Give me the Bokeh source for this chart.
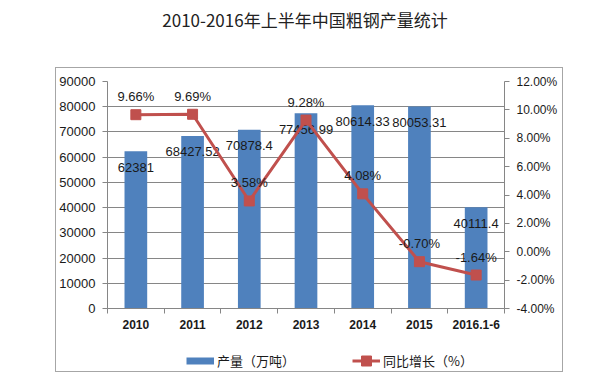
import numpy as np
from bokeh.plotting import figure
from bokeh.layouts import column
from bokeh.models import (Range1d, LinearAxis, FixedTicker, Legend, LegendItem,
                          ColumnDataSource, Div)
from bokeh.embed import file_html
from bokeh.resources import INLINE
from bokeh.core.properties import value

title_text = "2010-2016年上半年中国粗钢产量统计"
categories = ["2010", "2011", "2012", "2013", "2014", "2015", "2016.1-6"]
output_values = [62381, 68427.52, 70878.4, 77456.99, 80614.33, 80053.31, 40111.4]
output_labels = ["62381", "68427.52", "70878.4", "77456.99", "80614.33", "80053.31", "40111.4"]
growth_pct = [9.66, 9.69, 3.58, 9.28, 4.08, -0.70, -1.64]
left_ticks = list(range(0, 90001, 10000))
right_ticks = list(range(-4, 13, 2))
bar_name = "产量（万吨）"
line_name = "同比增长（%）"

BAR = "#4F81BD"
RED = "#C0504D"
AX = "#868686"
TXT = "#1a1a1a"
NUM_FONT = "Liberation Sans"
CJK = "Noto Sans CJK SC"

x = np.arange(len(categories)) + 0.5
src = ColumnDataSource(dict(
    x=x, v=output_values, vl=output_labels,
    g=growth_pct, gl=[f"{g:.2f}%" for g in growth_pct],
))

# ---------------- main chart ----------------
p = figure(width=506, height=272, output_backend="svg", toolbar_location=None,
           x_range=Range1d(0, len(categories)), y_range=Range1d(left_ticks[0], left_ticks[-1]),
           min_border_left=50, min_border_right=58, min_border_top=13, min_border_bottom=32)
p.outline_line_color = None
p.extra_y_ranges = {"pct": Range1d(right_ticks[0], right_ticks[-1])}

bars = p.vbar(x="x", top="v", width=0.4, source=src, fill_color=BAR, line_color=None)
p.text(x="x", y="v", text="vl", source=src, y_offset=16, text_align="center",
       text_baseline="middle", text_font_size="13px", text_font=value(NUM_FONT),
       text_color=TXT)

ln = p.line(x="x", y="g", source=src, y_range_name="pct", line_color=RED, line_width=3)
mk = p.scatter(x="x", y="g", source=src, y_range_name="pct", marker="square", size=10,
               fill_color=RED, line_color=RED)
p.text(x="x", y="g", text="gl", source=src, y_range_name="pct", y_offset=-18,
       text_align="center", text_baseline="middle", text_font_size="13px",
       text_font=value(NUM_FONT), text_color=TXT)

xa = p.xaxis[0]
xa.ticker = FixedTicker(ticks=list(x), minor_ticks=list(range(len(categories) + 1)))
xa.major_label_overrides = {float(xi): c for xi, c in zip(x, categories)}
xa.major_tick_line_color = None
xa.major_tick_out = 0
xa.major_tick_in = 0
xa.minor_tick_in = 0
xa.minor_tick_out = 5
xa.minor_tick_line_color = AX
xa.axis_line_color = AX
xa.major_label_standoff = 6
xa.major_label_text_font = NUM_FONT
xa.major_label_text_font_style = "bold"
xa.major_label_text_font_size = "12px"
xa.major_label_text_color = TXT

ya = p.yaxis[0]
ya.ticker = FixedTicker(ticks=left_ticks)
ya.major_tick_in = 0
ya.major_tick_out = 5
ya.minor_tick_line_color = None
ya.axis_line_color = AX
ya.major_tick_line_color = AX
ya.major_label_standoff = 7
ya.major_label_text_font = NUM_FONT
ya.major_label_text_font_size = "13px"
ya.major_label_text_color = TXT

ra = LinearAxis(y_range_name="pct", ticker=FixedTicker(ticks=right_ticks))
ra.major_label_overrides = {t: f"{t:.2f}%" for t in right_ticks}
ra.major_tick_in = 0
ra.major_tick_out = 5
ra.minor_tick_line_color = None
ra.axis_line_color = AX
ra.major_tick_line_color = AX
ra.major_label_standoff = 7
ra.major_label_text_font = NUM_FONT
ra.major_label_text_font_size = "12px"
ra.major_label_text_color = TXT
p.add_layout(ra, "right")

p.xgrid.visible = False
p.ygrid.ticker = FixedTicker(ticks=left_ticks)
p.ygrid.grid_line_color = AX
p.ygrid.grid_line_width = 1

# ---------------- legend strip ----------------
# proxy renderers share the chart data but sit outside this strip's view,
# so only their legend swatches are visible
pl = figure(width=506, height=31, output_backend="svg", toolbar_location=None,
            x_range=Range1d(-3, -2), y_range=Range1d(-3, -2),
            x_axis_type=None, y_axis_type=None, min_border=0)
pl.outline_line_color = None
pl.xgrid.visible = False
pl.ygrid.visible = False
sw_bar = pl.line(x="x", y="v", source=src, line_color=BAR, line_width=7)
sw_line = pl.line(x="x", y="g", source=src, line_color=RED, line_width=3)
sw_mark = pl.scatter(x="x", y="g", source=src, marker="square", size=10,
                     fill_color=RED, line_color=RED)
lg = Legend(items=[LegendItem(label=bar_name, renderers=[sw_bar]),
                   LegendItem(label=line_name, renderers=[sw_line, sw_mark])],
            location=(79, -2), orientation="horizontal",
            glyph_width=28, glyph_height=25, padding=0, margin=0, spacing=57,
            label_standoff=3, label_text_font=CJK, label_text_font_size="13px",
            label_text_color=TXT, border_line_color=None, background_fill_alpha=0)
pl.add_layout(lg)

boxed = column(p, pl, spacing=0, styles={"border": "1px solid #a6a6a6"},
               margin=(0, 0, 0, 55))

title_div = Div(
    text=(f'<div style="width:610px;text-align:center;font-family:\'{CJK}\';'
          f'font-size:17px;line-height:20px;padding-top:10px;color:#222222">{title_text}</div>'),
    width=600, height=67, margin=(0, 0, 0, 0))

layout = column(title_div, boxed, spacing=0)

open("out.html", "w").write(file_html(layout, INLINE))
